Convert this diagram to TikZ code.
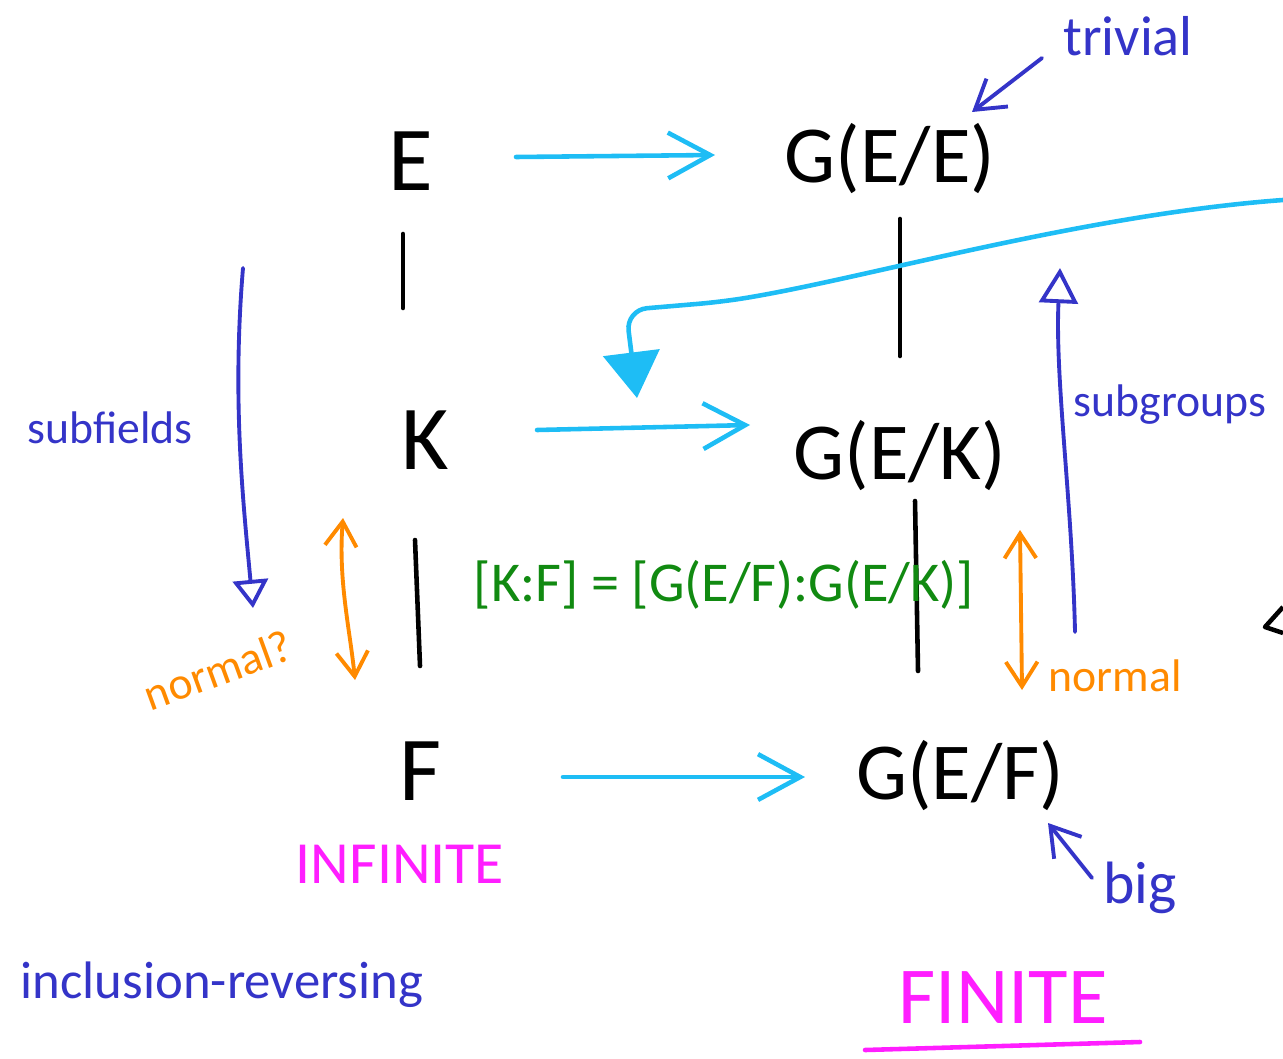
\documentclass[tikz,border=0pt]{standalone}
\usepackage{fontspec}
\setmainfont{Carlito}
\usetikzlibrary{arrows.meta,calc}
\definecolor{penCyan}{HTML}{1EBDF5}
\definecolor{penBlue}{HTML}{3434C8}
\definecolor{penOrange}{HTML}{FF8A00}
\definecolor{penGreen}{HTML}{118A11}
\definecolor{penMagenta}{HTML}{FF1EFF}
\tikzset{
  field/.style   = {inner sep=2pt, font=\fontsize{26}{28}\selectfont},
  grp/.style     = {inner sep=2pt, font=\fontsize{23}{25}\selectfont},
  incl/.style    = {line width=1.3pt, line cap=round},
  mapto/.style   = {penCyan, line width=1.3pt, line cap=round, -{Straight Barb[length=12pt,width=13pt]}},
  note/.style    = {penBlue, inner sep=1pt},
  noteArr/.style = {penBlue, line width=1.1pt, line cap=round, -{Straight Barb[length=8pt,width=10pt]}},
  order/.style   = {penBlue, line width=1.1pt, line cap=round, -{Triangle[open,length=8pt,width=10pt]}},
  normArr/.style = {penOrange, line width=1.1pt, line cap=round,
                    {Straight Barb[length=7pt,width=9pt]}-{Straight Barb[length=7pt,width=9pt]}},
  normal/.style  = {penOrange, inner sep=1pt},
  size/.style    = {penMagenta, inner sep=1pt}
}

\begin{document}
\begin{tikzpicture}[x=0.01cm, y=-0.01cm]  % pixel-like units, y downwards
  \useasboundingbox (0,0) rectangle (1283,1058);

  %  --  Fields on the left, their Galois groups on the right
  \node[field] (nE)  at (411,161) {E};
  \node[field] (nK)  at (425,440) {K};
  \node[field] (nF)  at (420,771) {F};
  \node[grp]   (gEE) at (890,159) {G(E/E)};
  \node[grp]   (gEK) at (900,456) {G(E/K)};
  \node[grp]   (gEF) at (960,776) {G(E/F)};

  %  --  Inclusion lines of both lattices
  \foreach \a/\b/\sx/\sy/\ex/\ey in {nE/nK/-8/73/-22/-132, nK/nF/-10/100/0/-105,
                                     gEE/gEK/10/60/0/-100, gEK/gEF/15/45/-42/-105}{
    \draw[incl] ($(\a)+(\sx,\sy)$) -- ($(\b)+(\ex,\ey)$);
  }

  %  --  Correspondence arrows  field -> group
  \foreach \a/\b/\sx/\sy/\ex/\ey in {nE/gEE/105/-4/-175/-4, nK/gEK/112/-10/-150/-31,
                                     nF/gEF/143/6/-155/1}{
    \draw[mapto] ($(\a)+(\sx,\sy)$) -- ($(\b)+(\ex,\ey)$);
  }

  % long stroke coming in from the right edge
  \coordinate (rEdge) at (1283,200);
  \draw[penCyan, line width=1.3pt, line cap=round, rounded corners=6pt, -{Triangle[length=13pt,width=16pt]}]
    (rEdge) .. controls (1080,215) and (860,280) .. (720,302) -- (626,310) -- ($(nK)+(212,-42)$);

  %  --  Direction notes
  \node[note, font=\fontsize{13}{15}\selectfont] (lSub) at (110,428) {subfields};
  \coordinate (sfTop) at (243,268);
  \coordinate (sfBot) at (253,608);
  \draw[order] (sfTop) .. controls (232,400) and (243,500) .. (sfBot);

  \node[note, font=\fontsize{13}{15}\selectfont] (lGrp) at (1170,405) {subgroups};
  \coordinate (sgBot) at (1075,632);
  \coordinate (sgTop) at (1060,268);
  \draw[order, -{Triangle[open,length=10pt,width=11pt]}] (sgBot) .. controls (1072,500) and (1055,380) .. (sgTop);

  \node[note, font=\fontsize{16}{18}\selectfont] (lTriv) at (1128,36) {trivial};
  \draw[noteArr] ($(lTriv)+(-86,22)$) -- ($(gEE)+(82,-47)$);

  \node[note, font=\fontsize{17}{19}\selectfont] (lBig) at (1140,888) {big};
  \draw[noteArr] ($(lBig)+(-48,-10)$) -- ($(gEF)+(88,47)$);

  %  --  Normality
  \coordinate (nlTop) at (343,518);
  \coordinate (nlBot) at (355,680);
  \draw[normArr] (nlTop) .. controls (338,580) and (350,630) .. (nlBot);
  \node[normal, font=\fontsize{13}{15}\selectfont, rotate=20] (lNormL) at (218,670) {normal?};

  \coordinate (nrTop) at (1020,530);
  \coordinate (nrBot) at (1022,690);
  \draw[normArr] (nrTop) -- (nrBot);
  \node[normal, font=\fontsize{13}{15}\selectfont] (lNormR) at (1115,676) {normal};

  %  --  Degree equals index
  \node[penGreen, font=\fontsize{16}{18}\selectfont] (lIdx) at (724,585) {[K:F] = [G(E/F):G(E/K)]};

  %  --  Finite / infinite, inclusion-reversing
  \node[size, font=\fontsize{17}{19}\selectfont] (lInf) at (400,864) {INFINITE};
  \node[size, font=\fontsize{23}{25}\selectfont] (lFin) at (1003,998) {FINITE};
  \draw[penMagenta, line width=1.3pt, line cap=round] ($(lFin)+(-138,52)$) -- ($(lFin)+(137,44)$);

  \node[note, font=\fontsize{15}{17}\selectfont] (lRev) at (222,985) {inclusion-reversing};

  % piece of a stroke cut off at the right edge
  \draw[line width=1.3pt, line join=round] (1283,607) -- (1265,627) -- (1283,633);
\end{tikzpicture}
\end{document}
